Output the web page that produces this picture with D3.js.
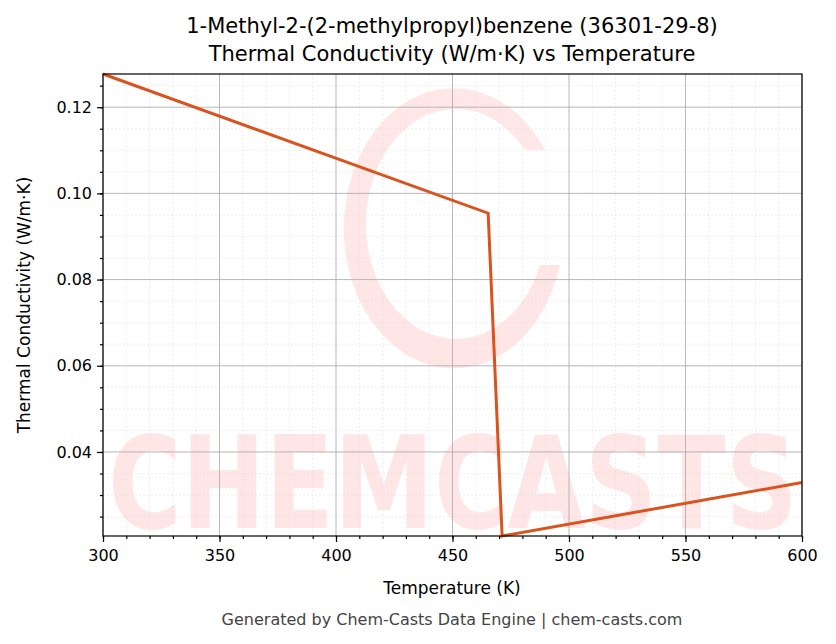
<!DOCTYPE html>
<html><head><meta charset="utf-8">
<script src="https://cdn.jsdelivr.net/npm/d3@7"></script>
<style>body{margin:0;background:#fff;font-family:"DejaVu Sans",sans-serif}</style>
</head><body>
<svg id="chart" width="836" height="644"></svg>
<script>
// data
const temps = [300, 465.3, 471.3, 600];
const conductivity = [0.1277, 0.0954, 0.0205, 0.0329];
const xTicks = [300, 350, 400, 450, 500, 550, 600];
const yTicks = [0.04, 0.06, 0.08, 0.10, 0.12];

const svg = d3.select('#chart');
const m = {left: 103, right: 802, top: 74, bottom: 536};
const x = d3.scaleLinear().domain([300, 600]).range([m.left, m.right]);
const y = d3.scaleLinear().domain([0.0205, 0.1277]).range([m.bottom, m.top]);

// watermark
const wm = svg.append('g').attr('opacity', 0.13).attr('fill', '#f44');
wm.append('text').attr('x', 453).attr('y', 528).attr('text-anchor', 'middle')
  .attr('font-size', 128).attr('font-weight', 'bold').attr('textLength', 690)
  .attr('lengthAdjust', 'spacingAndGlyphs').text('CHEMCASTS');
wm.append('path').attr('d', 'M545,150 A110,140 0 1 0 560,265 L540,265 A90,115 0 1 1 525,150 Z');

// grid
const grid = svg.append('g');
d3.range(300, 601, 10).forEach(v => grid.append('line').attr('x1', x(v)).attr('x2', x(v))
  .attr('y1', m.top).attr('y2', m.bottom).attr('stroke', '#ddd').attr('stroke-width', 0.5).attr('stroke-dasharray', '2,2'));
d3.range(0.025, 0.128, 0.005).forEach(v => grid.append('line').attr('y1', y(v)).attr('y2', y(v))
  .attr('x1', m.left).attr('x2', m.right).attr('stroke', '#ddd').attr('stroke-width', 0.5).attr('stroke-dasharray', '2,2'));
xTicks.forEach(v => grid.append('line').attr('x1', x(v)).attr('x2', x(v))
  .attr('y1', m.top).attr('y2', m.bottom).attr('stroke', '#aaa').attr('stroke-width', 0.8));
yTicks.forEach(v => grid.append('line').attr('y1', y(v)).attr('y2', y(v))
  .attr('x1', m.left).attr('x2', m.right).attr('stroke', '#aaa').attr('stroke-width', 0.8));

// line
const line = d3.line().x((d, i) => x(temps[i])).y(d => y(d));
svg.append('path').datum(conductivity).attr('d', line).attr('fill', 'none')
  .attr('stroke', '#d9531e').attr('stroke-width', 3);

// axes
svg.append('g').attr('transform', `translate(0,${m.bottom})`)
  .call(d3.axisBottom(x).tickValues(xTicks).tickFormat(d3.format('d')).tickSize(6).tickPadding(8));
svg.append('g').attr('transform', `translate(0,${m.bottom})`)
  .call(d3.axisBottom(x).tickValues(d3.range(300, 601, 10)).tickFormat('').tickSize(3))
  .selectAll('text').remove();
svg.append('g').attr('transform', `translate(${m.left},0)`)
  .call(d3.axisLeft(y).tickValues(yTicks).tickFormat(d3.format('.2f')).tickSize(6).tickPadding(5));
svg.append('g').attr('transform', `translate(${m.left},0)`)
  .call(d3.axisLeft(y).tickValues(d3.range(0.025, 0.128, 0.005)).tickFormat('').tickSize(3))
  .selectAll('text').remove();
svg.selectAll('.tick text').attr('font-size', 16).attr('fill', '#000').attr('font-family', 'DejaVu Sans');
svg.selectAll('.tick line').attr('stroke-width', 1.2);
svg.selectAll('.domain').remove();
svg.append('rect').attr('x', m.left).attr('y', m.top).attr('width', m.right - m.left)
  .attr('height', m.bottom - m.top).attr('fill', 'none').attr('stroke', '#000').attr('stroke-width', 1.2);

// text
const t = (s, xx, yy, size, fill, rot) => svg.append('text').attr('x', xx).attr('y', yy)
  .attr('text-anchor', 'middle').attr('font-size', size).attr('fill', fill || '#000')
  .attr('transform', rot ? `rotate(-90,${xx},${yy})` : null).text(s);
t('1-Methyl-2-(2-methylpropyl)benzene (36301-29-8)', 452, 33, 21);
t('Thermal Conductivity (W/m·K) vs Temperature', 452, 61, 21);
t('Temperature (K)', 452, 594, 17);
t('Thermal Conductivity (W/m·K)', 30, 305, 17, '#000', true);
t('Generated by Chem-Casts Data Engine | chem-casts.com', 452, 625, 16, '#444');
</script>
</body></html>
